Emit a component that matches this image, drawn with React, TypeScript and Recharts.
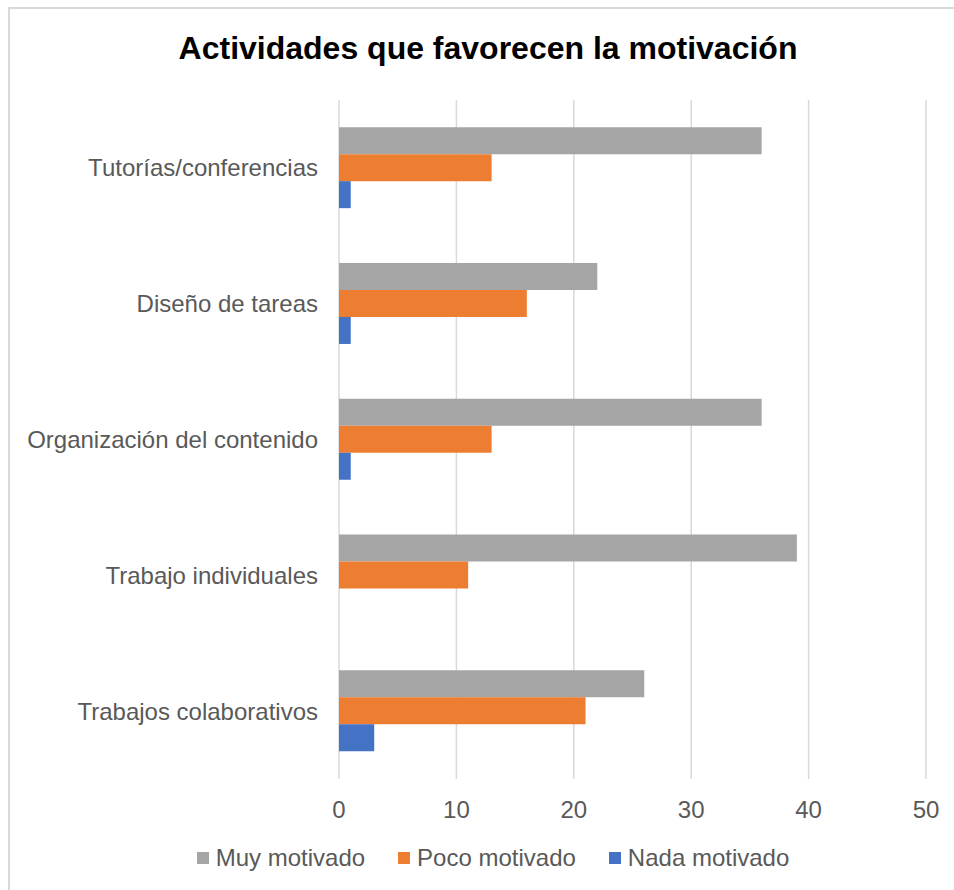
import { BarChart, Bar, XAxis, YAxis, CartesianGrid, Legend } from "recharts"

const categories = [
  "Tutorías/conferencias",
  "Diseño de tareas",
  "Organización del contenido",
  "Trabajo individuales",
  "Trabajos colaborativos",
]
const muyMotivado = [36, 22, 36, 39, 26]
const pocoMotivado = [13, 16, 13, 11, 21]
const nadaMotivado = [1, 1, 1, 0, 3]
const xTicks = [0, 10, 20, 30, 40, 50]

const series = [
  { key: "muy", name: "Muy motivado", color: "#A5A5A5" },
  { key: "poco", name: "Poco motivado", color: "#ED7D31" },
  { key: "nada", name: "Nada motivado", color: "#4472C4" },
]

const data = categories.map((name, i) => ({
  name,
  muy: muyMotivado[i],
  poco: pocoMotivado[i],
  nada: nadaMotivado[i],
}))

const FONT = "'Liberation Sans', Arial, sans-serif"

function LegendContent() {
  return (
    <div
      style={{
        height: 40,
        display: "flex",
        justifyContent: "center",
        alignItems: "center",
        paddingLeft: 60,
        fontFamily: FONT,
        fontSize: 24,
        color: "#595959",
        gap: 33,
      }}
    >
      {series.map((s) => (
        <div key={s.key} style={{ display: "flex", alignItems: "center" }}>
          <span style={{ width: 12, height: 12, background: s.color, marginRight: 7, display: "inline-block" }} />
          <span>{s.name}</span>
        </div>
      ))}
    </div>
  )
}

export default function App() {
  return (
    <div style={{ position: "absolute", left: 0, top: 0, width: 954, height: 890, overflow: "hidden", background: "white" }}>
      <div
        style={{
          position: "absolute",
          left: 8,
          top: 7,
          width: 980,
          height: 920,
          border: "2px solid #d9d9d9",
        }}
      />
      <div
        style={{
          position: "absolute",
          left: 0,
          top: 32,
          width: 976,
          textAlign: "center",
          fontFamily: FONT,
          fontWeight: "bold",
          fontSize: 32,
          lineHeight: "32px",
          color: "#000",
        }}
      >
        Actividades que favorecen la motivación
      </div>
      <div style={{ position: "absolute", left: 0, top: 0 }}>
        <BarChart
          width={954}
          height={890}
          data={data}
          layout="vertical"
          margin={{ top: 100, right: 28, left: 0, bottom: 12 }}
          barCategoryGap="20%"
          barGap={0}
        >
          <CartesianGrid horizontal={false} stroke="#d9d9d9" strokeWidth={1.5} />
          <XAxis
            type="number"
            domain={[0, 50]}
            ticks={xTicks}
            axisLine={false}
            tickLine={false}
            tickMargin={16}
            height={59}
            tick={{ fontSize: 24, fill: "#595959", fontFamily: FONT }}
          />
          <YAxis
            type="category"
            dataKey="name"
            width={339}
            axisLine={false}
            tickLine={false}
            tickMargin={15}
            tick={{ fontSize: 24, fill: "#595959", fontFamily: FONT }}
          />
          <Legend verticalAlign="bottom" content={<LegendContent />} />
          {series.map((s) => (
            <Bar key={s.key} dataKey={s.key} name={s.name} fill={s.color} isAnimationActive={false} />
          ))}
        </BarChart>
      </div>
    </div>
  )
}
